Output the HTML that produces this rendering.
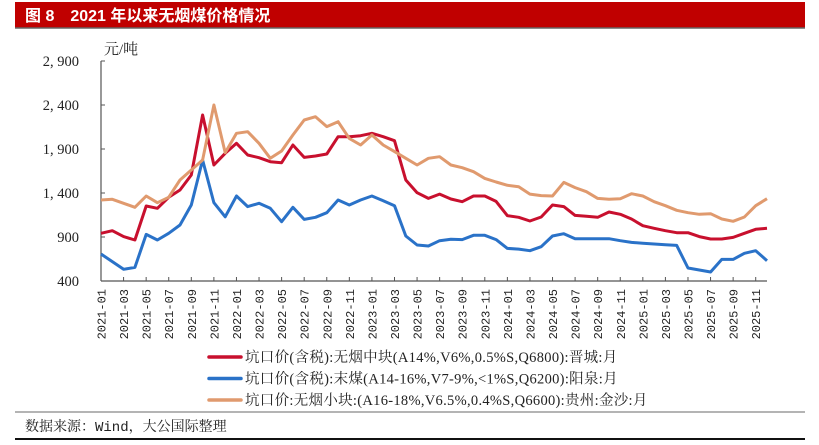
<!DOCTYPE html>
<html><head><meta charset="utf-8"><style>
body{margin:0;background:#fff;}
svg{display:block;}
text{font-family:"Liberation Serif","Noto Serif CJK SC",serif;}
.mono{font-family:"Liberation Mono","Noto Serif CJK SC",monospace;}
</style></head><body>
<svg id="c" width="819" height="445" viewBox="0 0 819 445" xmlns="http://www.w3.org/2000/svg">
<rect x="15" y="2" width="790" height="26" fill="#c00000"/>
<line x1="15" y1="28" x2="805" y2="28" stroke="#666" stroke-width="1.5"/>
<text x="25" y="21" fill="#fff" font-size="16" font-weight="bold" style="font-family:'Liberation Sans','Noto Sans CJK SC',sans-serif">图 8　2021 年以来无烟煤价格情况</text>
<text x="104" y="54" font-size="15" fill="#222">元/吨</text>
<g id="axes"></g>
<g id="series"></g>
<g id="legend"></g>
<line x1="15" y1="412" x2="805" y2="412" stroke="#888" stroke-width="1.2"/>
<text x="25" y="431" font-size="14" fill="#222" class="mono">数据来源：Wind，大公国际整理</text>
<line x1="15" y1="439" x2="805" y2="439" stroke="#111" stroke-width="2"/>
</svg>
<script>
const yTicks=[2900,2400,1900,1400,900,400];
const startYear=2021, nMonths=60;
const seriesNames=["坑口价(含税):无烟中块(A14%,V6%,0.5%S,Q6800):晋城:月","坑口价(含税):末煤(A14-16%,V7-9%,<1%S,Q6200):阳泉:月","坑口价:无烟小块:(A16-18%,V6.5%,0.4%S,Q6600):贵州:金沙:月"];
const redVals=[942,972,904,866,1252,1226,1351,1434,1604,2286,1718,1851,1965,1832,1801,1756,1744,1945,1805,1820,1843,2040,2040,2051,2078,2040,1994,1548,1403,1339,1388,1332,1301,1366,1366,1305,1142,1124,1082,1127,1264,1245,1146,1135,1124,1184,1158,1104,1028,999,972,949,949,904,877,877,896,942,987,999];
const blueVals=[707,620,533,555,930,866,942,1036,1264,1775,1290,1130,1366,1245,1283,1226,1074,1237,1100,1124,1176,1320,1264,1320,1366,1313,1256,911,809,798,858,874,870,919,919,870,771,763,744,790,911,937,881,881,881,881,858,839,828,820,812,805,548,525,502,646,646,715,744,631];
const orangeVals=[1320,1328,1283,1237,1366,1290,1351,1548,1661,1775,2400,1858,2078,2097,1965,1794,1877,2059,2230,2267,2154,2210,2021,1945,2059,1945,1870,1794,1718,1794,1813,1718,1688,1642,1566,1525,1487,1472,1388,1370,1366,1521,1461,1415,1339,1328,1335,1392,1366,1301,1256,1203,1176,1158,1165,1104,1078,1127,1256,1335];
const colors=["#c8102e","#2a72c8","#e09a6e"];
const NS="http://www.w3.org/2000/svg";
const x0=101,x1=767,yTop=61,yBot=281,vMin=400,vMax=2900;
const xs=i=>x0+(x1-x0)*i/(nMonths-1);
const ys=v=>yBot-(v-vMin)/(vMax-vMin)*(yBot-yTop);
function mk(tag,attrs,parent){const e=document.createElementNS(NS,tag);for(const k in attrs)e.setAttribute(k,attrs[k]);parent.appendChild(e);return e;}
const ax=document.getElementById('axes');
let yl=mk('line',{x1:x0,y1:yTop,x2:x0,y2:yBot,stroke:'#555','stroke-width':1.2},ax);


let xl=mk('line',{x1:x0,y1:yBot,x2:x1,y2:yBot,stroke:'#555','stroke-width':1.2},ax);


yTicks.forEach(v=>{
  mk('line',{x1:x0,y1:ys(v),x2:x0+4,y2:ys(v),stroke:'#555'},ax);
  const t=mk('text',{x:79,y:ys(v)+5,'text-anchor':'end','font-size':14.5,fill:'#222'},ax);
  t.textContent=v.toLocaleString('en-US').replace(',',', ');
  
  
});
for(let i=0;i<nMonths;i+=2){
  const x=xs(i);
  mk('line',{x1:x,y1:yBot,x2:x,y2:yBot-4,stroke:'#555'},ax);
  const y=startYear+Math.floor(i/12),m=(i%12)+1;
  const t=mk('text',{x:0,y:0,'text-anchor':'end','font-size':12,fill:'#222',class:'mono',transform:`translate(${x+4.5},${yBot+8}) rotate(-90)`},ax);
  t.textContent=y+'-'+String(m).padStart(2,'0');
  
  
}
const sg=document.getElementById('series');
[redVals,blueVals,orangeVals].forEach((vals,k)=>{
  const p=mk('polyline',{points:vals.map((v,i)=>xs(i).toFixed(1)+','+ys(v).toFixed(1)).join(' '),fill:'none',stroke:colors[k],'stroke-width':3,'stroke-linejoin':'round'},sg);
  
  
});
const lg=document.getElementById('legend');
seriesNames.forEach((n,k)=>{
  const y=357+k*21.5;
  const g=mk('g',{},lg);
  
  
  mk('line',{x1:209,y1:y,x2:241,y2:y,stroke:colors[k],'stroke-width':3.5,'stroke-linecap':'round'},g);
  const t=mk('text',{x:245,y:y+5,'font-size':14.5,fill:'#222','letter-spacing':'0.3'},g);
  t.textContent=n;
});
</script>
</body></html>
